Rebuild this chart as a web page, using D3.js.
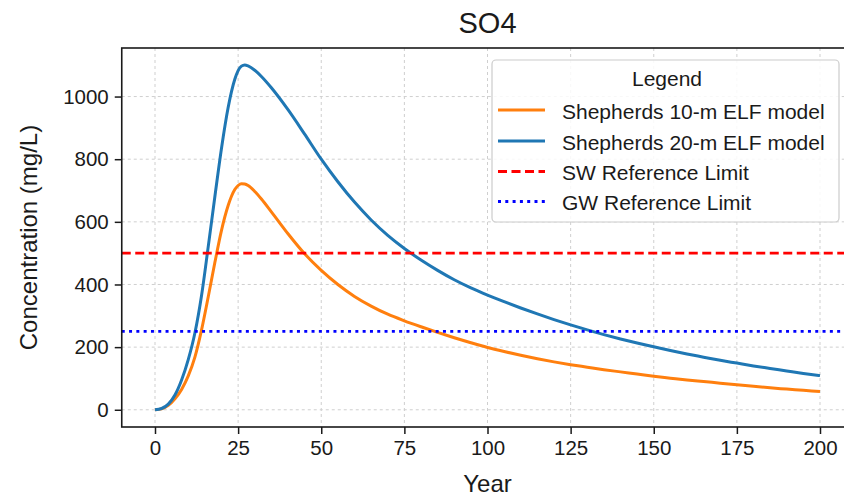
<!DOCTYPE html>
<html>
<head>
<meta charset="utf-8">
<script src="https://cdn.jsdelivr.net/npm/d3@7"></script>
<style>
  html, body { margin: 0; padding: 0; background: #fff; }
  svg { display: block; font-family: "Liberation Sans", Arial, Helvetica, sans-serif; }
</style>
</head>
<body>
<svg id="chart" width="844" height="497"></svg>
<script>
// ---------- DATA ----------
const title = "SO4";
const xLabel = "Year";
const yLabel = "Concentration (mg/L)";
const legendTitle = "Legend";

const years10 = [0, 2, 4, 6, 8, 10, 12, 14, 16, 18, 20, 22, 24, 25, 26, 27, 28, 30, 32, 35, 40, 45, 50, 55, 60, 65, 70, 75, 80, 85, 90, 95, 100, 105, 110, 115, 120, 125, 130, 135, 140, 145, 150, 155, 160, 165, 170, 175, 180, 185, 190, 195, 200];
const shepherds10m = [0, 3, 14, 35, 65, 108, 168, 255, 360, 470, 573, 652, 703, 716, 722, 721, 716, 697, 673, 632, 562, 498, 445, 400, 362, 331, 305, 284, 265, 247, 230, 214, 199, 186, 174, 163, 153, 144, 136, 128, 121, 114, 107, 101, 95, 90, 85, 80, 75, 70, 66, 62, 58];

const years20 = [0, 2, 4, 6, 8, 10, 12, 14, 16, 18, 20, 22, 24, 25, 26, 27, 28, 30, 32, 35, 40, 45, 50, 55, 60, 65, 70, 75, 80, 85, 90, 95, 100, 105, 110, 115, 120, 125, 130, 135, 140, 145, 150, 155, 160, 165, 170, 175, 180, 185, 190, 195, 200];
const shepherds20m = [0, 4, 18, 47, 95, 160, 245, 365, 520, 680, 835, 965, 1055, 1083, 1097, 1101, 1098, 1084, 1064, 1028, 958, 880, 800, 728, 663, 606, 557, 515, 478, 445, 415, 389, 366, 345, 325, 306, 288, 271, 255, 240, 226, 213, 201, 189, 178, 168, 158, 149, 140, 132, 124, 116, 109];

const swLimit = 500;
const gwLimit = 250;

const xTicks = [0, 25, 50, 75, 100, 125, 150, 175, 200];
const yTicks = [0, 200, 400, 600, 800, 1000];

const seriesNames = ["Shepherds 10-m ELF model", "Shepherds 20-m ELF model", "SW Reference Limit", "GW Reference Limit"];
const seriesColors = ["#ff7f0e", "#1f77b4", "#ff0000", "#0000ff"];
const seriesDash = [null, null, "9,4.5", "3,4.3"];

// ---------- LAYOUT ----------
const svg = d3.select("#chart");
const plot = { left: 121.75, right: 853.25, top: 48, bottom: 427 };

const x = d3.scaleLinear().domain([-10, 210]).range([plot.left, plot.right]);
const y = d3.scaleLinear().domain([-55, 1155]).range([plot.bottom, plot.top]);

const textColor = "#1a1a1a";

svg.append("defs").append("clipPath").attr("id", "clip")
  .append("rect")
  .attr("x", plot.left).attr("y", plot.top)
  .attr("width", plot.right - plot.left).attr("height", plot.bottom - plot.top);

// grid
const grid = svg.append("g").attr("clip-path", "url(#clip)");
grid.selectAll("line.gx").data(xTicks).enter().append("line")
  .attr("x1", d => x(d)).attr("x2", d => x(d))
  .attr("y1", plot.top).attr("y2", plot.bottom)
  .attr("stroke", "#cfcfcf").attr("stroke-width", 1).attr("stroke-dasharray", "3,3");
grid.selectAll("line.gy").data(yTicks).enter().append("line")
  .attr("x1", plot.left).attr("x2", plot.right)
  .attr("y1", d => y(d)).attr("y2", d => y(d))
  .attr("stroke", "#cfcfcf").attr("stroke-width", 1).attr("stroke-dasharray", "3,3");

// series
const marks = svg.append("g").attr("clip-path", "url(#clip)");
const line = d3.line().x(d => x(d[0])).y(d => y(d[1])).curve(d3.curveMonotoneX);

marks.append("path")
  .datum(years10.map((yr, i) => [yr, shepherds10m[i]]))
  .attr("d", line).attr("fill", "none")
  .attr("stroke", seriesColors[0]).attr("stroke-width", 3).attr("stroke-linejoin", "round");

marks.append("path")
  .datum(years20.map((yr, i) => [yr, shepherds20m[i]]))
  .attr("d", line).attr("fill", "none")
  .attr("stroke", seriesColors[1]).attr("stroke-width", 3).attr("stroke-linejoin", "round");

marks.append("line")
  .attr("x1", plot.left).attr("x2", plot.right)
  .attr("y1", y(swLimit)).attr("y2", y(swLimit))
  .attr("stroke", seriesColors[2]).attr("stroke-width", 2.8).attr("stroke-dasharray", seriesDash[2]);

marks.append("line")
  .attr("x1", plot.left).attr("x2", plot.right)
  .attr("y1", y(gwLimit)).attr("y2", y(gwLimit))
  .attr("stroke", seriesColors[3]).attr("stroke-width", 2.8).attr("stroke-dasharray", seriesDash[3]);

// axes
const xAxis = d3.axisBottom(x).tickValues(xTicks).tickSize(7).tickPadding(6).tickFormat(d3.format("d"));
const yAxis = d3.axisLeft(y).tickValues(yTicks).tickSize(7).tickPadding(6).tickFormat(d3.format("d"));

const gx = svg.append("g").attr("transform", `translate(0,${plot.bottom})`).call(xAxis);
const gy = svg.append("g").attr("transform", `translate(${plot.left},0)`).call(yAxis);
[gx, gy].forEach(g => {
  g.select(".domain").remove();
  g.selectAll(".tick line").attr("stroke", textColor).attr("stroke-width", 1.5);
  g.selectAll(".tick text").attr("fill", textColor).style("font-size", "20.5px");
});

// spines
const spines = svg.append("g").attr("stroke", textColor).attr("stroke-width", 1.6).attr("fill", "none");
spines.append("rect")
  .attr("x", plot.left).attr("y", plot.top)
  .attr("width", plot.right - plot.left).attr("height", plot.bottom - plot.top);

// title & labels
svg.append("text").attr("x", (plot.left + plot.right) / 2).attr("y", 33)
  .attr("text-anchor", "middle").attr("fill", textColor).style("font-size", "29px").text(title);

svg.append("text").attr("x", (plot.left + plot.right) / 2).attr("y", 492)
  .attr("text-anchor", "middle").attr("fill", textColor).style("font-size", "24px").text(xLabel);

svg.append("text")
  .attr("transform", `translate(37,${(plot.top + plot.bottom) / 2}) rotate(-90)`)
  .attr("text-anchor", "middle").attr("fill", textColor).style("font-size", "24px").text(yLabel);

// legend
const lg = svg.append("g");
lg.append("rect")
  .attr("x", 492).attr("y", 60).attr("width", 347).attr("height", 162)
  .attr("rx", 4).attr("ry", 4)
  .attr("fill", "#ffffff").attr("fill-opacity", 0.85)
  .attr("stroke", "#cccccc").attr("stroke-width", 1.2);
lg.append("text").attr("x", 667).attr("y", 85.5)
  .attr("text-anchor", "middle").attr("fill", textColor).style("font-size", "21px").text(legendTitle);

const rowBase = [118.5, 149.5, 180, 210];
seriesNames.forEach((name, i) => {
  const by = rowBase[i];
  const ln = lg.append("line")
    .attr("x1", 498).attr("x2", 545)
    .attr("y1", by - 8.5).attr("y2", by - 8.5)
    .attr("stroke", seriesColors[i]).attr("stroke-width", 3);
  if (seriesDash[i]) ln.attr("stroke-dasharray", seriesDash[i]);
  lg.append("text").attr("x", 562).attr("y", by)
    .attr("fill", textColor).style("font-size", "21px").text(name);
});
</script>
</body>
</html>
